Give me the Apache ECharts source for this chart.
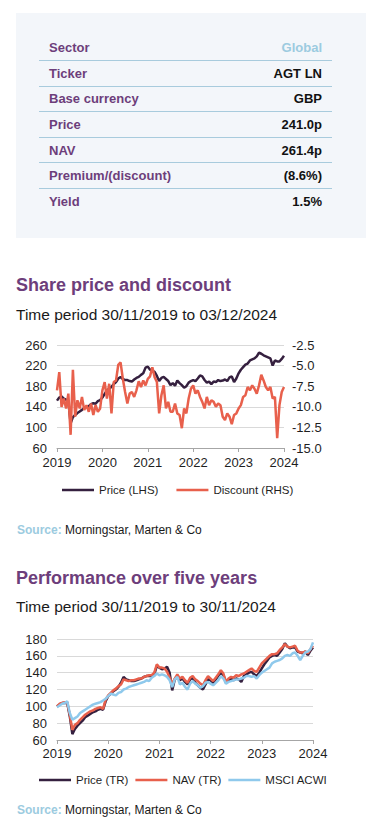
<!DOCTYPE html>
<html>
<head>
<meta charset="utf-8">
<script src="https://cdn.jsdelivr.net/npm/echarts@6/dist/echarts.min.js"></script>
<style>
  html, body { margin: 0; padding: 0; background: #fff; }
  body { width: 366px; height: 827px; position: relative; overflow: hidden; font-family: "Liberation Sans", Arial, sans-serif; }
  .box { position: absolute; left: 16px; top: 13px; width: 350px; height: 225px; background: #f3f6fa; }
  .row { position: absolute; left: 39px; width: 293px; height: 25.6px; box-sizing: border-box; display: flex; align-items: center; justify-content: space-between; padding: 0 10px; font-size: 13px; font-weight: bold; }
  .row.line { border-bottom: 1px solid #a8cbdd; }
  .lab { color: #6d3e7b; }
  .val { color: #111; }
  .title { position: absolute; left: 16px; font-size: 18px; line-height: 22px; font-weight: bold; color: #6d3e7b; white-space: nowrap; }
  .sub { position: absolute; left: 16px; font-size: 15.5px; line-height: 18px; color: #1a1a1a; white-space: nowrap; }
  .src { position: absolute; left: 17px; font-size: 12px; line-height: 14px; color: #1a1a1a; white-space: nowrap; }
  .src b { color: #9ccbe0; }
  #chart { position: absolute; left: 0; top: 0; width: 366px; height: 827px; }
</style>
</head>
<body>
<div class="box"></div>
<div id="table"></div>

<div class="title" style="top:274px">Share price and discount</div>
<div class="sub" style="top:306px">Time period 30/11/2019 to 03/12/2024</div>
<div class="src" style="top:523px"><b>Source:</b> Morningstar, Marten &amp; Co</div>

<div class="title" style="top:567px">Performance over five years</div>
<div class="sub" style="top:598px">Time period 30/11/2019 to 30/11/2024</div>
<div class="src" style="top:803px"><b>Source:</b> Morningstar, Marten &amp; Co</div>

<div id="chart"></div>

<script>
// ---------- Table data ----------
const tableLabels = ['Sector', 'Ticker', 'Base currency', 'Price', 'NAV', 'Premium/(discount)', 'Yield'];
const tableValues = ['Global', 'AGT LN', 'GBP', '241.0p', '261.4p', '(8.6%)', '1.5%'];

// ---------- Axis tick labels ----------
const yearLabels = ['2019', '2020', '2021', '2022', '2023', '2024'];
const pointsPerYear = 20;

// ---------- Chart 1: Share price and discount ----------
const sharePrice = [
  152,158,160,156,154,150,108,120,124,128,
  131,134,138,140,141,145,147,146,151,153,
  158,165,172,175,179,184,188,195,198,194,
  192,192,190,189,193,196,198,202,205,216,
  218,212,210,208,200,190,196,198,194,190,
  182,186,181,191,186,182,177,180,187,190,
  192,190,195,201,199,192,187,189,184,189,
  188,192,190,191,193,190,197,199,188,195,
  205,212,217,222,224,230,232,234,238,245,
  243,240,238,236,234,220,230,228,228,233,
  239
];
const discount = [
  -8.0,-5.8,-10.0,-9.0,-10.2,-8.4,-13.4,-5.5,-11.2,-9.2,
  -10.2,-8.8,-10.4,-9.8,-10.6,-9.6,-11.0,-9.8,-10.6,-10.2,
  -8.0,-7.0,-9.0,-7.2,-10.8,-7.0,-6.8,-4.9,-4.6,-6.6,
  -8.2,-9.6,-8.4,-8.2,-8.8,-8.0,-6.9,-7.6,-6.8,-7.4,
  -6.6,-6.3,-5.2,-6.4,-7.0,-10.8,-8.6,-7.4,-10.2,-9.4,
  -10.6,-10.6,-9.6,-10.8,-11.0,-12.6,-10.2,-10.8,-9.0,-7.8,
  -7.4,-8.4,-8.0,-8.8,-9.4,-10.2,-8.8,-9.8,-9.2,-9.4,
  -10.0,-9.6,-9.8,-11.2,-11.6,-10.8,-11.2,-12.1,-11.0,-10.8,
  -10.2,-9.8,-8.8,-8.6,-7.6,-8.0,-7.4,-7.8,-8.4,-7.4,
  -6.1,-6.8,-7.6,-8.0,-7.6,-9.0,-8.8,-13.8,-9.8,-8.2,
  -7.6
];

// ---------- Chart 2: Performance over five years ----------
const priceTR = [
  100,102,104,104,104,88,67,73,77,80,
  83,87,89,91,93,94,96,97,96,106,
  112,115,118,120,123,128,135,132,131,130,
  130,131,132,133,135,136,136,136,138,148,
  146,144,145,147,140,119,132,135,131,133,
  129,126,132,134,128,125,122,120,126,132,
  131,128,132,136,140,137,128,131,133,131,
  133,132,129,136,138,140,141,138,136,140,
  145,150,154,158,160,161,160,164,168,175,
  171,169,170,170,165,164,163,165,161,166,
  170
];
const navTR = [
  100,103,104,105,105,90,72,78,80,84,
  87,90,92,94,95,97,98,99,97,108,
  113,116,119,121,124,126,132,131,130,131,
  131,132,133,133,135,136,137,137,140,150,
  146,146,145,141,134,127,133,138,133,135,
  131,128,134,136,132,130,127,125,131,136,
  133,130,134,138,143,139,129,133,135,134,
  137,136,138,139,141,143,145,142,141,146,
  151,154,157,160,162,162,163,167,170,174,
  171,170,171,172,166,164,164,165,163,168,
  172
];
const msciACWI = [
  99,101,103,104,106,92,84,86,88,92,
  94,96,98,100,102,103,104,105,107,109,
  112,115,114,113,116,117,120,121,123,124,
  125,126,127,128,129,131,130,134,136,139,
  137,138,137,135,131,123,132,135,126,128,
  123,120,127,130,127,125,122,124,128,129,
  127,125,128,131,136,133,127,129,130,131,
  132,132,133,134,136,136,135,136,133,137,
  140,142,144,146,151,153,154,155,157,160,
  161,160,163,164,160,155,160,164,165,168,
  176
];

// categories: one per observation
const periods = sharePrice.map((_, i) => 'p' + i);

// ---------- Build table ----------
const tbl = document.getElementById('table');
tableLabels.forEach((lab, i) => {
  const r = document.createElement('div');
  r.className = 'row' + (i < tableLabels.length - 1 ? ' line' : '');
  r.style.top = (35.4 + 25.6 * i) + 'px';
  const a = document.createElement('span'); a.className = 'lab'; a.textContent = lab;
  const b = document.createElement('span'); b.className = 'val'; b.textContent = tableValues[i];
  if (i === 0) b.style.color = '#9ccbe0';
  r.appendChild(a); r.appendChild(b);
  tbl.appendChild(r);
});

// ---------- Chart ----------
const FONT = '"Liberation Sans", Arial, sans-serif';
const C_PRICE = '#35203f', C_RED = '#e8604c', C_BLUE = '#8fc9ec';
const txt = { color: '#1f1f1f', fontSize: 13, fontFamily: FONT };

function xAxisFor(grid, margin) {
  return {
    type: 'category', gridIndex: grid, data: periods, boundaryGap: false,
    axisLine: { show: true, lineStyle: { color: '#a6a6a6', width: 1 } },
    axisTick: { show: true, interval: pointsPerYear - 1, length: 4, lineStyle: { color: '#a6a6a6' } },
    axisLabel: Object.assign({ interval: pointsPerYear - 1, margin: margin,
      formatter: (v, idx) => yearLabels[Math.round(idx / pointsPerYear)] }, txt),
    splitLine: { show: false }
  };
}

const chart = echarts.init(document.getElementById('chart'), null, { renderer: 'svg' });
chart.setOption({
  animation: false,
  backgroundColor: 'transparent',
  textStyle: { fontFamily: FONT },
  grid: [
    { left: 57, top: 345, width: 227, height: 103, containLabel: false },
    { left: 57, top: 639, width: 256, height: 101, containLabel: false }
  ],
  xAxis: [xAxisFor(0, 8), xAxisFor(1, 7)],
  yAxis: [
    { type: 'value', gridIndex: 0, min: 60, max: 260, interval: 40, position: 'left',
      axisLine: { show: false }, axisTick: { show: false },
      axisLabel: Object.assign({ margin: 10 }, txt),
      splitLine: { show: true, lineStyle: { color: '#d9d9d9', width: 1 } } },
    { type: 'value', gridIndex: 0, min: -15, max: -2.5, interval: 2.5, position: 'right',
      axisLine: { show: false }, axisTick: { show: false },
      axisLabel: Object.assign({ margin: 8, formatter: v => v.toFixed(1) }, txt),
      splitLine: { show: false } },
    { type: 'value', gridIndex: 1, min: 60, max: 180, interval: 20, position: 'left',
      axisLine: { show: false }, axisTick: { show: false },
      axisLabel: Object.assign({ margin: 10 }, txt),
      splitLine: { show: true, lineStyle: { color: '#d9d9d9', width: 1 } } }
  ],
  legend: [
    { left: 62, top: 484, padding: 0, icon: 'rect', itemWidth: 32, itemHeight: 2.5, itemGap: 18,
      data: ['Price (LHS)', 'Discount (RHS)'],
      textStyle: { fontSize: 11.5, color: '#1f1f1f', fontFamily: FONT } },
    { left: 39, top: 774, padding: 0, icon: 'rect', itemWidth: 32, itemHeight: 2.5, itemGap: 7,
      data: ['Price (TR)', 'NAV (TR)', 'MSCI ACWI'],
      textStyle: { fontSize: 11.5, color: '#1f1f1f', fontFamily: FONT } }
  ],
  series: [
    { name: 'Price (LHS)', type: 'line', xAxisIndex: 0, yAxisIndex: 0, data: sharePrice,
      showSymbol: false, color: C_PRICE, lineStyle: { width: 2.5, color: C_PRICE } },
    { name: 'Discount (RHS)', type: 'line', xAxisIndex: 0, yAxisIndex: 1, data: discount,
      showSymbol: false, color: C_RED, lineStyle: { width: 2.5, color: C_RED } },
    { name: 'Price (TR)', type: 'line', xAxisIndex: 1, yAxisIndex: 2, data: priceTR,
      showSymbol: false, color: C_PRICE, lineStyle: { width: 2.5, color: C_PRICE } },
    { name: 'NAV (TR)', type: 'line', xAxisIndex: 1, yAxisIndex: 2, data: navTR,
      showSymbol: false, color: C_RED, lineStyle: { width: 2.5, color: C_RED } },
    { name: 'MSCI ACWI', type: 'line', xAxisIndex: 1, yAxisIndex: 2, data: msciACWI,
      showSymbol: false, color: C_BLUE, lineStyle: { width: 2.5, color: C_BLUE } }
  ]
});
</script>
</body>
</html>
